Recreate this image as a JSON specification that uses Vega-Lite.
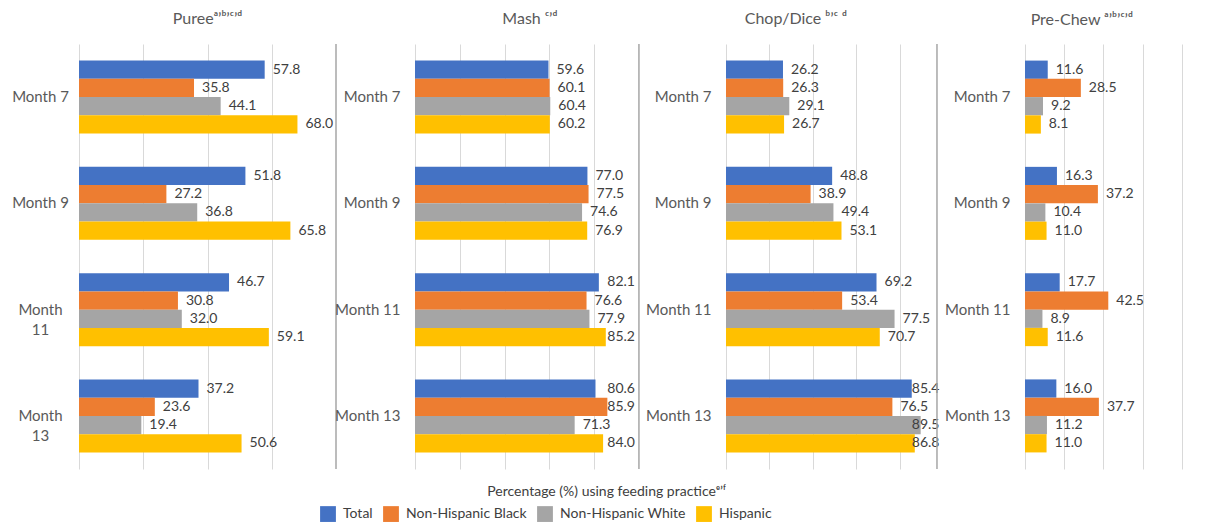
{
  "$schema": "https://vega.github.io/schema/vega-lite/v6.json",
  "padding": {"left": 11, "top": 11, "right": 0, "bottom": 0},
  "bounds": "flush",
  "spacing": 79,
  "datasets": {
    "rows": [
      {"p":"Puree","m":"Month 7","g":"Total","v":57.8},
      {"p":"Puree","m":"Month 7","g":"Non-Hispanic Black","v":35.8},
      {"p":"Puree","m":"Month 7","g":"Non-Hispanic White","v":44.1},
      {"p":"Puree","m":"Month 7","g":"Hispanic","v":68.0},
      {"p":"Puree","m":"Month 9","g":"Total","v":51.8},
      {"p":"Puree","m":"Month 9","g":"Non-Hispanic Black","v":27.2},
      {"p":"Puree","m":"Month 9","g":"Non-Hispanic White","v":36.8},
      {"p":"Puree","m":"Month 9","g":"Hispanic","v":65.8},
      {"p":"Puree","m":"Month 11","g":"Total","v":46.7},
      {"p":"Puree","m":"Month 11","g":"Non-Hispanic Black","v":30.8},
      {"p":"Puree","m":"Month 11","g":"Non-Hispanic White","v":32.0},
      {"p":"Puree","m":"Month 11","g":"Hispanic","v":59.1},
      {"p":"Puree","m":"Month 13","g":"Total","v":37.2},
      {"p":"Puree","m":"Month 13","g":"Non-Hispanic Black","v":23.6},
      {"p":"Puree","m":"Month 13","g":"Non-Hispanic White","v":19.4},
      {"p":"Puree","m":"Month 13","g":"Hispanic","v":50.6},
      {"p":"Mash","m":"Month 7","g":"Total","v":59.6},
      {"p":"Mash","m":"Month 7","g":"Non-Hispanic Black","v":60.1},
      {"p":"Mash","m":"Month 7","g":"Non-Hispanic White","v":60.4},
      {"p":"Mash","m":"Month 7","g":"Hispanic","v":60.2},
      {"p":"Mash","m":"Month 9","g":"Total","v":77.0},
      {"p":"Mash","m":"Month 9","g":"Non-Hispanic Black","v":77.5},
      {"p":"Mash","m":"Month 9","g":"Non-Hispanic White","v":74.6},
      {"p":"Mash","m":"Month 9","g":"Hispanic","v":76.9},
      {"p":"Mash","m":"Month 11","g":"Total","v":82.1},
      {"p":"Mash","m":"Month 11","g":"Non-Hispanic Black","v":76.6},
      {"p":"Mash","m":"Month 11","g":"Non-Hispanic White","v":77.9},
      {"p":"Mash","m":"Month 11","g":"Hispanic","v":85.2},
      {"p":"Mash","m":"Month 13","g":"Total","v":80.6},
      {"p":"Mash","m":"Month 13","g":"Non-Hispanic Black","v":85.9},
      {"p":"Mash","m":"Month 13","g":"Non-Hispanic White","v":71.3},
      {"p":"Mash","m":"Month 13","g":"Hispanic","v":84.0},
      {"p":"Chop","m":"Month 7","g":"Total","v":26.2},
      {"p":"Chop","m":"Month 7","g":"Non-Hispanic Black","v":26.3},
      {"p":"Chop","m":"Month 7","g":"Non-Hispanic White","v":29.1},
      {"p":"Chop","m":"Month 7","g":"Hispanic","v":26.7},
      {"p":"Chop","m":"Month 9","g":"Total","v":48.8},
      {"p":"Chop","m":"Month 9","g":"Non-Hispanic Black","v":38.9},
      {"p":"Chop","m":"Month 9","g":"Non-Hispanic White","v":49.4},
      {"p":"Chop","m":"Month 9","g":"Hispanic","v":53.1},
      {"p":"Chop","m":"Month 11","g":"Total","v":69.2},
      {"p":"Chop","m":"Month 11","g":"Non-Hispanic Black","v":53.4},
      {"p":"Chop","m":"Month 11","g":"Non-Hispanic White","v":77.5},
      {"p":"Chop","m":"Month 11","g":"Hispanic","v":70.7},
      {"p":"Chop","m":"Month 13","g":"Total","v":85.4},
      {"p":"Chop","m":"Month 13","g":"Non-Hispanic Black","v":76.5},
      {"p":"Chop","m":"Month 13","g":"Non-Hispanic White","v":89.5},
      {"p":"Chop","m":"Month 13","g":"Hispanic","v":86.8},
      {"p":"PreChew","m":"Month 7","g":"Total","v":11.6},
      {"p":"PreChew","m":"Month 7","g":"Non-Hispanic Black","v":28.5},
      {"p":"PreChew","m":"Month 7","g":"Non-Hispanic White","v":9.2},
      {"p":"PreChew","m":"Month 7","g":"Hispanic","v":8.1},
      {"p":"PreChew","m":"Month 9","g":"Total","v":16.3},
      {"p":"PreChew","m":"Month 9","g":"Non-Hispanic Black","v":37.2},
      {"p":"PreChew","m":"Month 9","g":"Non-Hispanic White","v":10.4},
      {"p":"PreChew","m":"Month 9","g":"Hispanic","v":11.0},
      {"p":"PreChew","m":"Month 11","g":"Total","v":17.7},
      {"p":"PreChew","m":"Month 11","g":"Non-Hispanic Black","v":42.5},
      {"p":"PreChew","m":"Month 11","g":"Non-Hispanic White","v":8.9},
      {"p":"PreChew","m":"Month 11","g":"Hispanic","v":11.6},
      {"p":"PreChew","m":"Month 13","g":"Total","v":16.0},
      {"p":"PreChew","m":"Month 13","g":"Non-Hispanic Black","v":37.7},
      {"p":"PreChew","m":"Month 13","g":"Non-Hispanic White","v":11.2},
      {"p":"PreChew","m":"Month 13","g":"Hispanic","v":11.0}
    ],
    "one": [{}]
  },
  "hconcat": [
    {
      "width": 257, "height": 425,
      "title": {"text": "Pureeᵃʼᵇʼᶜʼᵈ", "frame": "group", "anchor": "middle"},
      "layer": [
        {
          "data": {"name": "rows"},
          "transform": [{"filter": "datum.p == 'Puree'"}],
          "mark": {"type": "bar"},
          "encoding": {
            "y": {"field": "m", "type": "nominal", "sort": ["Month 7","Month 9","Month 11","Month 13"],
                  "scale": {"paddingInner": 0.313, "paddingOuter": 0.156},
                  "axis": {"title": null, "labelAlign": "center", "labelPadding": 39, "labelLineHeight": 20,
                           "labelExpr": "indexof(datum.value, '1') > 0 ? split(datum.value, ' ') : datum.value"}},
            "yOffset": {"field": "g", "sort": ["Total","Non-Hispanic Black","Non-Hispanic White","Hispanic"], "scale": {"paddingInner": 0, "paddingOuter": 0}},
            "x": {"field": "v", "type": "quantitative", "scale": {"domain": [0, 80], "nice": false},
                  "axis": {"values": [0, 20, 40, 60], "title": null}},
            "color": {"field": "g", "type": "nominal",
                      "scale": {"domain": ["Total","Non-Hispanic Black","Non-Hispanic White","Hispanic"], "range": ["#4472C4","#ED7D31","#A5A5A5","#FFC000"]},
                      "legend": {"orient": "none", "legendX": 241, "legendY": 462, "direction": "horizontal", "title": null}}
          }
        },
        {
          "data": {"name": "rows"},
          "transform": [{"filter": "datum.p == 'Puree'"}],
          "mark": {"type": "text", "align": "left", "baseline": "middle", "dx": 8},
          "encoding": {
            "y": {"field": "m", "type": "nominal", "sort": ["Month 7","Month 9","Month 11","Month 13"]},
            "yOffset": {"field": "g", "sort": ["Total","Non-Hispanic Black","Non-Hispanic White","Hispanic"]},
            "x": {"field": "v", "type": "quantitative"},
            "text": {"field": "v", "type": "quantitative", "format": ".1f"}
          }
        },
        {
          "data": {"name": "one"},
          "mark": {"type": "rule", "color": "#A6A6A6", "strokeWidth": 1.5},
          "encoding": {"x": {"datum": 80}}
        }
      ]
    },
    {
      "width": 232, "height": 425,
      "title": {"text": "Mash ᶜʼᵈ", "frame": "bounds", "anchor": "middle"},
      "layer": [
        {
          "data": {"name": "rows"},
          "transform": [{"filter": "datum.p == 'Mash'"}],
          "mark": {"type": "bar"},
          "encoding": {
            "y": {"field": "m", "type": "nominal", "sort": ["Month 7","Month 9","Month 11","Month 13"],
                  "scale": {"paddingInner": 0.313, "paddingOuter": 0.156},
                  "axis": {"title": null}},
            "yOffset": {"field": "g", "sort": ["Total","Non-Hispanic Black","Non-Hispanic White","Hispanic"], "scale": {"paddingInner": 0, "paddingOuter": 0}},
            "x": {"field": "v", "type": "quantitative", "scale": {"domain": [0, 103.6], "nice": false},
                  "axis": {"values": [0, 20, 40, 60, 80], "title": "Percentage (%) using feeding practiceᵉʼᶠ",
                           "titleX": 191, "titleY": 26, "titleAlign": "center", "titleBaseline": "alphabetic", "titleAnchor": null}},
            "color": {"field": "g", "type": "nominal",
                      "scale": {"domain": ["Total","Non-Hispanic Black","Non-Hispanic White","Hispanic"], "range": ["#4472C4","#ED7D31","#A5A5A5","#FFC000"]}}
          }
        },
        {
          "data": {"name": "rows"},
          "transform": [{"filter": "datum.p == 'Mash' && datum.v <= 80"}],
          "mark": {"type": "text", "align": "left", "baseline": "middle", "dx": 8},
          "encoding": {
            "y": {"field": "m", "type": "nominal", "sort": ["Month 7","Month 9","Month 11","Month 13"]},
            "yOffset": {"field": "g", "sort": ["Total","Non-Hispanic Black","Non-Hispanic White","Hispanic"]},
            "x": {"field": "v", "type": "quantitative"},
            "text": {"field": "v", "type": "quantitative", "format": ".1f"}
          }
        },
        {
          "data": {"name": "rows"},
          "transform": [{"filter": "datum.p == 'Mash' && datum.v > 80"}],
          "mark": {"type": "text", "align": "right", "baseline": "middle", "dx": -4},
          "encoding": {
            "y": {"field": "m", "type": "nominal", "sort": ["Month 7","Month 9","Month 11","Month 13"]},
            "yOffset": {"field": "g", "sort": ["Total","Non-Hispanic Black","Non-Hispanic White","Hispanic"]},
            "x": {"datum": 100},
            "text": {"field": "v", "type": "quantitative", "format": ".1f"}
          }
        },
        {
          "data": {"name": "one"},
          "mark": {"type": "rule", "color": "#A6A6A6", "strokeWidth": 1.5},
          "encoding": {"x": {"datum": 100}}
        }
      ]
    },
    {
      "width": 220, "height": 425,
      "title": {"text": "Chop/Dice ᵇʼᶜ ᵈ", "frame": "bounds", "anchor": "middle"},
      "layer": [
        {
          "data": {"name": "rows"},
          "transform": [{"filter": "datum.p == 'Chop'"}],
          "mark": {"type": "bar"},
          "encoding": {
            "y": {"field": "m", "type": "nominal", "sort": ["Month 7","Month 9","Month 11","Month 13"],
                  "scale": {"paddingInner": 0.313, "paddingOuter": 0.156},
                  "axis": {"title": null}},
            "yOffset": {"field": "g", "sort": ["Total","Non-Hispanic Black","Non-Hispanic White","Hispanic"], "scale": {"paddingInner": 0, "paddingOuter": 0}},
            "x": {"field": "v", "type": "quantitative", "scale": {"domain": [0, 101.15], "nice": false},
                  "axis": {"values": [0, 20, 40, 60, 80], "title": null}},
            "color": {"field": "g", "type": "nominal",
                      "scale": {"domain": ["Total","Non-Hispanic Black","Non-Hispanic White","Hispanic"], "range": ["#4472C4","#ED7D31","#A5A5A5","#FFC000"]}}
          }
        },
        {
          "data": {"name": "rows"},
          "transform": [{"filter": "datum.p == 'Chop' && datum.v <= 80"}],
          "mark": {"type": "text", "align": "left", "baseline": "middle", "dx": 8},
          "encoding": {
            "y": {"field": "m", "type": "nominal", "sort": ["Month 7","Month 9","Month 11","Month 13"]},
            "yOffset": {"field": "g", "sort": ["Total","Non-Hispanic Black","Non-Hispanic White","Hispanic"]},
            "x": {"field": "v", "type": "quantitative"},
            "text": {"field": "v", "type": "quantitative", "format": ".1f"}
          }
        },
        {
          "data": {"name": "rows"},
          "transform": [{"filter": "datum.p == 'Chop' && datum.v > 80"}],
          "mark": {"type": "text", "align": "right", "baseline": "middle", "dx": -4},
          "encoding": {
            "y": {"field": "m", "type": "nominal", "sort": ["Month 7","Month 9","Month 11","Month 13"]},
            "yOffset": {"field": "g", "sort": ["Total","Non-Hispanic Black","Non-Hispanic White","Hispanic"]},
            "x": {"datum": 100},
            "text": {"field": "v", "type": "quantitative", "format": ".1f"}
          }
        },
        {
          "data": {"name": "one"},
          "mark": {"type": "rule", "color": "#A6A6A6", "strokeWidth": 1.5},
          "encoding": {"x": {"datum": 97}}
        }
      ]
    },
    {
      "width": 194, "height": 425,
      "title": {"text": "Pre-Chew ᵃʼᵇʼᶜʼᵈ", "frame": "bounds", "anchor": "middle"},
      "layer": [
        {
          "data": {"name": "rows"},
          "transform": [{"filter": "datum.p == 'PreChew'"}],
          "mark": {"type": "bar"},
          "encoding": {
            "y": {"field": "m", "type": "nominal", "sort": ["Month 7","Month 9","Month 11","Month 13"],
                  "scale": {"paddingInner": 0.313, "paddingOuter": 0.156},
                  "axis": {"title": null}},
            "yOffset": {"field": "g", "sort": ["Total","Non-Hispanic Black","Non-Hispanic White","Hispanic"], "scale": {"paddingInner": 0, "paddingOuter": 0}},
            "x": {"field": "v", "type": "quantitative", "scale": {"domain": [0, 99], "nice": false},
                  "axis": {"values": [0, 20, 40, 60, 80], "title": null}},
            "color": {"field": "g", "type": "nominal",
                      "scale": {"domain": ["Total","Non-Hispanic Black","Non-Hispanic White","Hispanic"], "range": ["#4472C4","#ED7D31","#A5A5A5","#FFC000"]}}
          }
        },
        {
          "data": {"name": "rows"},
          "transform": [{"filter": "datum.p == 'PreChew'"}],
          "mark": {"type": "text", "align": "left", "baseline": "middle", "dx": 8},
          "encoding": {
            "y": {"field": "m", "type": "nominal", "sort": ["Month 7","Month 9","Month 11","Month 13"]},
            "yOffset": {"field": "g", "sort": ["Total","Non-Hispanic Black","Non-Hispanic White","Hispanic"]},
            "x": {"field": "v", "type": "quantitative"},
            "text": {"field": "v", "type": "quantitative", "format": ".1f"}
          }
        }
      ]
    }
  ],
  "resolve": {"scale": {"x": "independent", "y": "independent", "yOffset": "independent"}},
  "config": {
    "font": "Lato",
    "view": {"stroke": null},
    "text": {"fontSize": 14, "color": "#404040"},
    "title": {"font": "Lato, 'DejaVu Sans'", "fontSize": 16, "fontWeight": "normal", "color": "#595959", "baseline": "alphabetic", "offset": 16},
    "axisX": {"labels": false, "ticks": false, "domain": false, "grid": true, "gridColor": "#D9D9D9", "gridWidth": 1,
              "titleFont": "Lato, 'DejaVu Sans'", "titleFontSize": 14, "titleFontWeight": "normal", "titleColor": "#404040"},
    "axisY": {"domain": false, "ticks": false, "tickSize": 0, "grid": false, "labelFontSize": 15, "labelColor": "#595959", "labelPadding": 15},
    "legend": {"symbolType": "square", "symbolSize": 250, "symbolStrokeWidth": 0, "labelFontSize": 14, "labelColor": "#404040",
               "columnPadding": 10, "labelOffset": 7, "symbolOpacity": 1}
  }
}
